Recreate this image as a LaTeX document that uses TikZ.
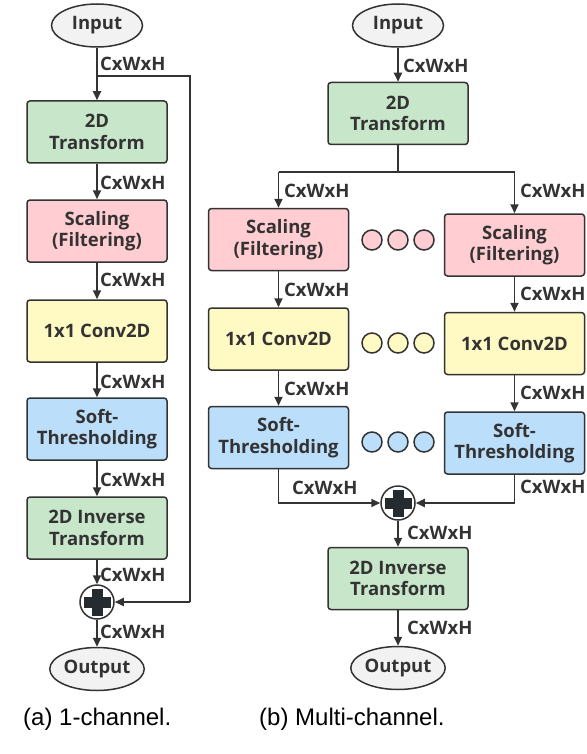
\documentclass[tikz,border=0pt]{standalone}
\usepackage{fontspec}
\setmainfont{Open Sans}
\newfontfamily\capfont{Liberation Sans}
\usetikzlibrary{shapes.geometric,arrows.meta}
\definecolor{linec}{HTML}{333333}
\definecolor{txtc}{HTML}{333333}
\definecolor{gboxc}{HTML}{C8E6C9}
\definecolor{pboxc}{HTML}{FFCDD2}
\definecolor{yboxc}{HTML}{FFF9C4}
\definecolor{bboxc}{HTML}{BBDEFB}
\definecolor{ellc}{HTML}{F2F2F2}
\definecolor{crossc}{HTML}{262B30}
\tikzset{
  blk/.style={draw=linec, line width=1.5pt, rounded corners=3pt, minimum width=140pt, minimum height=62pt, inner sep=0pt, align=center, text=txtc, font=\fontsize{18.5}{21.5}\selectfont\bfseries},
  gbox/.style={blk, fill=gboxc},
  pbox/.style={blk, fill=pboxc},
  ybox/.style={blk, fill=yboxc},
  bbox/.style={blk, fill=bboxc},
  term/.style={ellipse, draw=linec, line width=1.5pt, fill=ellc, minimum width=91pt, minimum height=43pt, inner sep=0pt, text=txtc, font=\fontsize{18.5}{21.5}\selectfont\bfseries},
  dimlab/.style={anchor=west, inner sep=0pt, text=txtc, font=\fontsize{18.5}{21.5}\selectfont\bfseries},
  dot/.style={circle, draw=linec, line width=1.5pt, minimum size=20pt, inner sep=0pt},
  arr/.style={draw=linec, line width=1.8pt, -{Triangle[length=9pt,width=8pt]}},
  ln/.style={draw=linec, line width=1.8pt},
  plusnode/.style={circle, draw=linec, line width=1.5pt, fill=white, minimum size=34pt, inner sep=0pt,
    path picture={
      \fill[crossc] ([xshift=-13.5pt,yshift=-5.5pt]path picture bounding box.center) rectangle ([xshift=13.5pt,yshift=5.5pt]path picture bounding box.center);
      \fill[crossc] ([xshift=-5.5pt,yshift=-13.5pt]path picture bounding box.center) rectangle ([xshift=5.5pt,yshift=13.5pt]path picture bounding box.center);
    }},
  caption/.style={anchor=base west, inner sep=0pt, font=\capfont\fontsize{24}{28}\selectfont}
}
\begin{document}
\begin{tikzpicture}[x=1pt,y=-1pt]
\useasboundingbox (0,0) rectangle (586,754);
% ---------- (a) 1-channel ----------
\node[term] (inL) at (97,25.5) {Input};
\node[gbox] (tL) at (97,132) {2D\\Transform};
\node[pbox] (sL) at (97,231) {Scaling\\(Filtering)};
\node[ybox] (cL) at (97,331) {1x1 Conv2D};
\node[bbox] (stL) at (97,429) {Soft-\\Thresholding};
\node[gbox] (iL) at (97,528) {2D Inverse\\Transform};
\node[plusnode] (pL) at (97,602) {};
\node[term] (oL) at (97,669) {Output};
\coordinate (fb1) at (97,76);
\coordinate (fb2) at (190,76);
\coordinate (fb3) at (190,602);
\draw[arr] (inL) -- (tL);
\draw[arr] (tL) -- (sL);
\draw[arr] (sL) -- (cL);
\draw[arr] (cL) -- (stL);
\draw[arr] (stL) -- (iL);
\draw[arr] (iL) -- (pL);
\draw[arr] (pL) -- (oL);
\draw[ln] (fb1) -- (fb2) -- (fb3);
\draw[arr] (fb3) -- (pL);
\node[dimlab] (lA1) at (100,64) {CxWxH};
\node[dimlab] (lA2) at (100,183) {CxWxH};
\node[dimlab] (lA3) at (100,280) {CxWxH};
\node[dimlab] (lA4) at (100,382) {CxWxH};
\node[dimlab] (lA5) at (100,480) {CxWxH};
\node[dimlab] (lA6) at (100,575) {CxWxH};
\node[dimlab] (lA7) at (100,632) {CxWxH};
% ---------- (b) Multi-channel ----------
\node[term] (inR) at (398,25.5) {Input};
\node[gbox] (tR) at (398,113.5) {2D\\Transform};
\coordinate (jC) at (398,172);
\coordinate (jL) at (278.5,172);
\coordinate (jR) at (514.5,172);
\node[pbox] (sRL) at (278.5,239.5) {Scaling\\(Filtering)};
\node[pbox] (sRR) at (514.5,245) {Scaling\\(Filtering)};
\node[ybox] (cRL) at (278.5,339) {1x1 Conv2D};
\node[ybox] (cRR) at (514.5,343.5) {1x1 Conv2D};
\node[bbox] (stRL) at (278.5,437.5) {Soft-\\Thresholding};
\node[bbox] (stRR) at (514.5,443) {Soft-\\Thresholding};
\node[plusnode] (pR) at (398,503) {};
\node[gbox] (iR) at (398,578.5) {2D Inverse\\Transform};
\node[term] (oR) at (398,668) {Output};
\node[dot, fill=pboxc] (d11) at (372,240) {};
\node[dot, fill=pboxc] (d12) at (398,240) {};
\node[dot, fill=pboxc] (d13) at (424,240) {};
\node[dot, fill=yboxc] (d21) at (372,343) {};
\node[dot, fill=yboxc] (d22) at (398,343) {};
\node[dot, fill=yboxc] (d23) at (424,343) {};
\node[dot, fill=bboxc] (d31) at (372,442) {};
\node[dot, fill=bboxc] (d32) at (398,442) {};
\node[dot, fill=bboxc] (d33) at (424,442) {};
\draw[arr] (inR) -- (tR);
\draw[ln] (tR) -- (jC);
\draw[ln] (jL) -- (jR);
\draw[arr] (jL) -- (sRL);
\draw[arr] (jR) -- (sRR);
\draw[arr] (sRL) -- (cRL);
\draw[arr] (sRR) -- (cRR);
\draw[arr] (cRL) -- (stRL);
\draw[arr] (cRR) -- (stRR);
\draw[arr] (stRL.south) |- (pR.west);
\draw[arr] (stRR.south) |- (pR.east);
\draw[arr] (pR) -- (iR);
\draw[arr] (iR) -- (oR);
\node[dimlab] (lB1) at (403,66) {CxWxH};
\node[dimlab] (lB2) at (284,191) {CxWxH};
\node[dimlab] (lB3) at (520,191) {CxWxH};
\node[dimlab] (lB4) at (284,290) {CxWxH};
\node[dimlab] (lB5) at (520,294) {CxWxH};
\node[dimlab] (lB6) at (284,389) {CxWxH};
\node[dimlab] (lB7) at (520,393) {CxWxH};
\node[dimlab] (lB8) at (292,488) {CxWxH};
\node[dimlab] (lB9) at (520,487) {CxWxH};
\node[dimlab] (lB10) at (407,533) {CxWxH};
\node[dimlab] (lB11) at (407,628) {CxWxH};
% captions
\node[caption] (capA) at (23,725) {(a) 1-channel.};
\node[caption] (capB) at (259,725) {(b) Multi-channel.};
\end{tikzpicture}
\end{document}
